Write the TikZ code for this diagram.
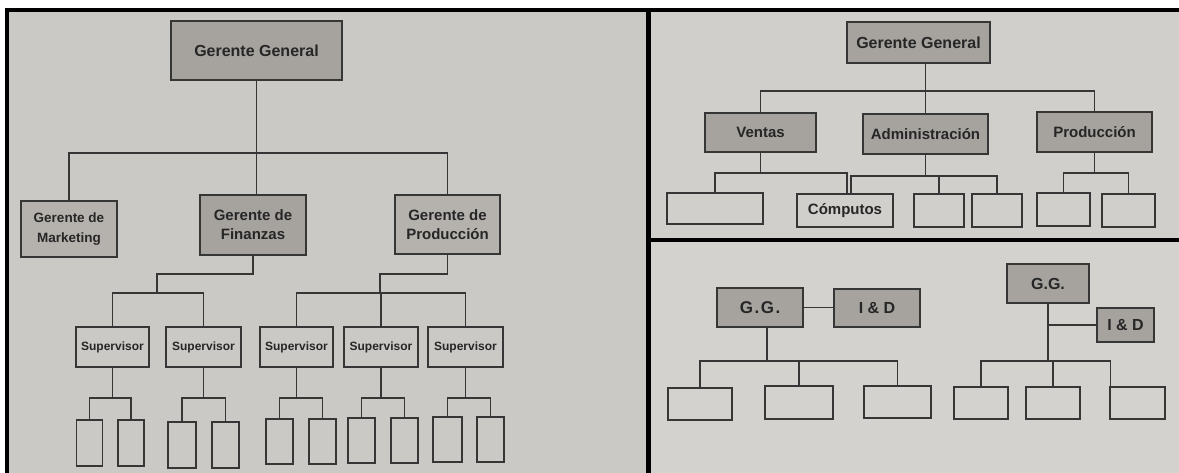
\documentclass[tikz,border=0pt]{standalone}
\usepackage{fontspec}
\setmainfont{Liberation Sans}
\definecolor{paperL}{HTML}{CBC9C5}
\definecolor{paperR}{HTML}{D0CFCC}
\definecolor{paperS}{HTML}{D3D2CF}
\definecolor{shadeA}{HTML}{A6A39F}
\definecolor{shadeB}{HTML}{B5B2AE}
\definecolor{ink}{HTML}{262626}
\definecolor{edge}{HTML}{363636}
\begin{document}
\begin{tikzpicture}[x=1pt,y=-1pt,
  dims/.style 2 args={minimum width=#1pt, minimum height=#2pt},
  box/.style={draw=edge, line width=1.6pt, inner sep=0pt, align=center,
    text=ink, font=\fontsize{15}{19}\selectfont\bfseries},
  dark/.style={box, fill=shadeA, line width=2.4pt},
  mid/.style={box, fill=shadeB},
  leaf/.style={box, line width=1.5pt},
  link/.style={draw=edge, line width=1.5pt},
  big/.style={font=\fontsize{16}{19}\selectfont\bfseries},
  small/.style={font=\fontsize{12}{14}\selectfont\bfseries}]
\useasboundingbox (0,0) rectangle (1179,473);

% paper and frames
\fill[white] (0,0) rectangle (1179,473);
\fill[paperL] (9,12) rectangle (646,473);
\fill[paperR] (651,12) rectangle (1179,238);
\fill[paperS] (651,242) rectangle (1179,473);
\fill[black] (5,8) rectangle (1179,12);
\fill[black] (5,8) rectangle (9,473);
\fill[black] (646,8) rectangle (651,473);
\fill[black] (646,238) rectangle (1179,242);

% ---------- left chart ----------
\node[dark, big, dims={171}{59}] (gg) at (256.5,50.5) {Gerente General};
\node[mid, font=\fontsize{13.5}{20}\selectfont\bfseries, dims={96}{56}] (mk) at (69,229) {Gerente de\\Marketing};
\node[dark, line width=2pt, dims={106}{60}] (fi) at (253,225) {Gerente de\\Finanzas};
\node[mid, dims={105}{59}] (pr) at (447.5,224.5) {Gerente de\\Producción};

\coordinate (bTop) at (0,153);
\draw[link] (gg.south) -- (gg.south |- fi.north);
\draw[link] (mk.north) |- (pr.north |- bTop) -- (pr.north);

\node[box, small, dims={73}{40}] (s1) at (112.5,347) {Supervisor};
\node[box, small, dims={75}{40}] (s2) at (203.5,347) {Supervisor};
\node[box, small, dims={73}{40}] (s3) at (296.5,347) {Supervisor};
\node[box, small, dims={74}{40}] (s4) at (381,347) {Supervisor};
\node[box, small, dims={75}{40}] (s5) at (465.5,347) {Supervisor};

\coordinate (fk) at (157,293);
\coordinate (pk) at (380,293);
\draw[link] (fi.south) -- ++(0,18) -| (fk);
\draw[link] (s1.north) |- (s2.north |- fk) -- (s2.north);
\draw[link] (pr.south) -- ++(0,19) -| (pk);
\draw[link] (s3.north) |- (s5.north |- pk) -- (s5.north);
\draw[link] (s4.north) -- (s4.north |- pk);

\node[leaf, dims={26}{46}] (a1) at (89.5,443) {};
\node[leaf, dims={26}{46}] (a2) at (131,443) {};
\node[leaf, dims={28}{46}] (a3) at (182,445) {};
\node[leaf, dims={27}{46}] (a4) at (225.5,445) {};
\node[leaf, dims={27}{45}] (a5) at (279.5,441.5) {};
\node[leaf, dims={27}{45}] (a6) at (322.5,441.5) {};
\node[leaf, dims={27}{45}] (a7) at (361.5,440.5) {};
\node[leaf, dims={27}{45}] (a8) at (404.5,440.5) {};
\node[leaf, dims={29}{45}] (a9) at (447.5,439.5) {};
\node[leaf, dims={27}{45}] (a10) at (490.5,439.5) {};

\coordinate (yL) at (0,398);
\foreach \s/\l/\r in {s1/a1/a2, s2/a3/a4, s3/a5/a6, s4/a7/a8, s5/a9/a10}{
  \draw[link] (\s.south) -- (\s.south |- yL);
  \draw[link] (\l.north) |- (\r.north |- yL) -- (\r.north);
}

% ---------- upper right chart ----------
\node[dark, big, dims={143}{41}] (rg) at (918.5,42.5) {Gerente General};
\node[dark, dims={111}{39}] (ve) at (760.5,132.5) {Ventas};
\node[dark, dims={125}{40}] (ad) at (925.5,134) {Administración};
\node[dark, dims={115}{40}] (rp) at (1094.5,132) {Producción};

\coordinate (bR) at (0,91);
\draw[link] (ad.north |- rg.south) -- (ad.north);
\draw[link] (ve.north) |- (rp.north |- bR) -- (rp.north);

\node[leaf, dims={96}{31}] (c1) at (715,208.5) {};
\node[leaf, dims={96}{33}] (cp) at (845,210.5) {Cómputos};
\node[leaf, dims={50}{33}] (c3) at (939,210.5) {};
\node[leaf, dims={50}{33}] (c4) at (997,210.5) {};
\node[leaf, dims={53}{33}] (c5) at (1063.5,209.5) {};
\node[leaf, dims={53}{33}] (c6) at (1128.5,210.5) {};

\coordinate (bV) at (0,173);
\coordinate (bA) at (0,176);
\draw[link] (ve.south) -- (ve.south |- bV);
\draw[link] (c1.north) |- ([xshift=2pt]cp.north |- bV) -- ([xshift=2pt]cp.north);
\draw[link] (ad.south) -- (ad.south |- bA);
\draw[link] ([xshift=6pt]cp.north) |- (c4.north |- bA) -- (c4.north);
\draw[link] (c3.north) -- (c3.north |- bA);
\draw[link] (rp.south) -- (rp.south |- bV);
\draw[link] (c5.north) |- (c6.north |- bV) -- (c6.north);

% ---------- lower right charts ----------
\node[dark, line width=2pt, font=\fontsize{17}{19}\selectfont\bfseries, dims={86}{39}] (g1) at (760,307.5) {\addfontfeature{LetterSpace=9}G.G.};
\node[dark, line width=2pt, big, dims={86}{38}] (i1) at (877,308) {I \& D};
\node[leaf, dims={64}{32}] (d1) at (700,404) {};
\node[leaf, dims={68}{33}] (d2) at (799,402.5) {};
\node[leaf, dims={67}{32}] (d3) at (897.5,402) {};

\coordinate (bB) at (0,361);
\draw[link] (g1.east) -- (g1.east -| i1.west);
\draw[link] ([xshift=7pt]g1.south) -- ([xshift=7pt]g1.south |- bB);
\draw[link] (d1.north) |- (d3.north |- bB) -- (d3.north);
\draw[link] (d2.north) -- (d2.north |- bB);

\node[dark, line width=2pt, big, dims={82}{39}] (g2) at (1048,283.5) {G.G.};
\node[dark, line width=2pt, big, dims={57}{34}] (i2) at (1125.5,325) {I \& D};
\node[leaf, dims={54}{32}] (e1) at (981,403) {};
\node[leaf, dims={54}{32}] (e2) at (1053,403) {};
\node[leaf, dims={55}{32}] (e3) at (1137.5,403) {};

\draw[link] (g2.south) -- (g2.south |- bB);
\draw[link] (g2.south |- i2.west) -- (i2.west);
\draw[link] (e1.north) |- ([xshift=-27pt]e3.north |- bB) -- ([xshift=-27pt]e3.north);
\draw[link] (e2.north) -- (e2.north |- bB);
\end{tikzpicture}
\end{document}
